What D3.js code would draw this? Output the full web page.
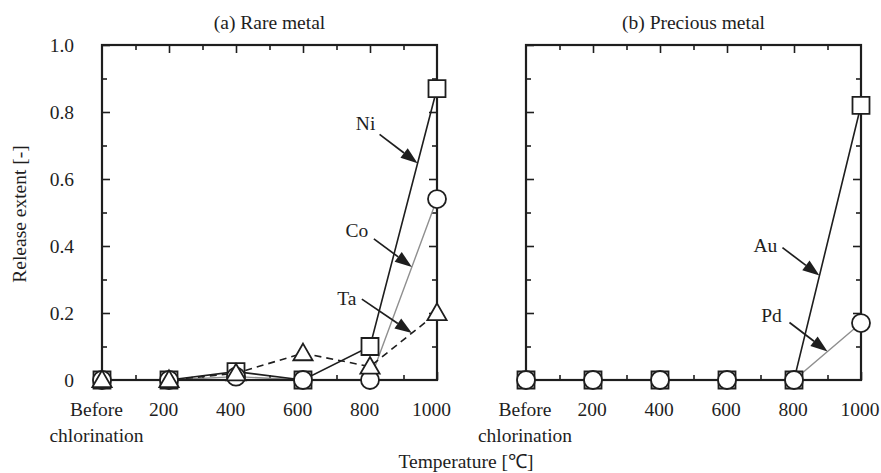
<!DOCTYPE html>
<html>
<head>
<meta charset="utf-8">
<script src="https://cdn.jsdelivr.net/npm/d3@7"></script>
<style>
  body { margin: 0; background: #fff; }
  text { font-family: "Liberation Serif", "Times New Roman", serif; }
</style>
</head>
<body>
<svg id="chart" width="881" height="473"></svg>
<script>
// Temperatures (x positions) and their tick labels
const temps = [0, 200, 400, 600, 800, 1000];
const tempLabels = ["Before|chlorination", "200", "400", "600", "800", "1000"];
const xMinorTicks = [100, 300, 500, 700, 900];

// Release-extent axis
const yTicks = [0, 0.2, 0.4, 0.6, 0.8, 1.0];
const yTickLabels = ["0", "0.2", "0.4", "0.6", "0.8", "1.0"];
const yMinorTicks = [0.1, 0.3, 0.5, 0.7, 0.9];

// (a) Rare metal
const ni = [0, 0, 0.025, 0, 0.10, 0.87];
const co = [0, 0, 0.01, 0, 0, 0.54];
const ta = [0, 0, 0.02, 0.08, 0.04, 0.20];

// (b) Precious metal
const au = [0, 0, 0, 0, 0, 0.82];
const pd = [0, 0, 0, 0, 0, 0.17];

const INK = "#1e1e1e";
const GREY = "#8f8f8f";
const FONT = 19.5;

const svg = d3.select("#chart");
const y = d3.scaleLinear().domain([0, 1]).range([380, 45]);

function valueAt(values, t) {
  const i = d3.bisectRight(temps, t) - 1;
  const j = Math.min(i + 1, temps.length - 1);
  if (i === j) return values[i];
  const f = (t - temps[i]) / (temps[j] - temps[i]);
  return values[i] + f * (values[j] - values[i]);
}

function drawPanel(cfg) {
  const x = d3.scaleLinear().domain([0, 1000]).range([cfg.left, cfg.right]);
  const g = svg.append("g").style("color", INK);

  // title
  g.append("text")
    .attr("x", (cfg.left + cfg.right) / 2).attr("y", 29)
    .attr("text-anchor", "middle").attr("font-size", FONT).attr("fill", INK)
    .text(cfg.title);

  // inward ticks on all four sides
  const tickStyle = sel => sel.call(s => s.select(".domain").remove())
    .selectAll("line").attr("stroke", INK).attr("stroke-width", 1.6);

  g.append("g").attr("transform", `translate(0,${y(1)})`)
    .call(d3.axisTop(x).tickValues(temps.slice(1, -1)).tickSize(-8).tickFormat(""))
    .call(tickStyle);
  g.append("g").attr("transform", `translate(0,${y(1)})`)
    .call(d3.axisTop(x).tickValues(xMinorTicks).tickSize(-5).tickFormat(""))
    .call(tickStyle);
  g.append("g").attr("transform", `translate(0,${y(0)})`)
    .call(d3.axisBottom(x).tickValues(xMinorTicks).tickSize(-5).tickFormat(""))
    .call(tickStyle);
  g.append("g").attr("transform", `translate(${x(1000)},0)`)
    .call(d3.axisRight(y).tickValues(yTicks.slice(1, -1)).tickSize(-8).tickFormat(""))
    .call(tickStyle);
  g.append("g").attr("transform", `translate(${x(1000)},0)`)
    .call(d3.axisRight(y).tickValues(yMinorTicks).tickSize(-5).tickFormat(""))
    .call(tickStyle);
  g.append("g").attr("transform", `translate(${x(0)},0)`)
    .call(d3.axisLeft(y).tickValues(yMinorTicks).tickSize(-5).tickFormat(""))
    .call(tickStyle);

  // left axis with labels
  const yAxis = g.append("g").attr("transform", `translate(${x(0)},0)`)
    .call(d3.axisLeft(y).tickValues(yTicks).tickSize(-8).tickPadding(28)
      .tickFormat((d, i) => cfg.yLabels ? yTickLabels[i] : ""));
  yAxis.call(tickStyle);
  yAxis.selectAll("text").attr("font-size", FONT).attr("font-family", null).attr("fill", INK);

  // bottom axis with temperature labels
  const xAxis = g.append("g").attr("transform", `translate(0,${y(0)})`)
    .call(d3.axisBottom(x).tickValues(temps).tickSize(-8).tickPadding(22)
      .tickFormat((d, i) => tempLabels[i]));
  xAxis.call(tickStyle);
  xAxis.selectAll("text").attr("font-size", FONT).attr("font-family", null).attr("fill", INK)
    .each(function (d, i) {
      const parts = tempLabels[i].split("|");
      const t = d3.select(this).text(null);
      parts.forEach((p, k) => {
        t.append("tspan").attr("x", 0).attr("dx", cfg.labelShift)
          .attr("dy", k === 0 ? "0.71em" : "1.33em").text(p);
      });
      t.attr("dy", null);
    });

  // lines: grey series underneath the black ones
  const line = d3.line().x((d, i) => x(temps[i])).y(d => y(d));
  const ordered = cfg.series.slice().sort((a, b) => (b.color === GREY) - (a.color === GREY));
  ordered.forEach(s => {
    g.append("path").datum(s.values)
      .attr("d", line).attr("fill", "none")
      .attr("stroke", s.color).attr("stroke-width", s.width)
      .attr("stroke-dasharray", s.dash || null);
  });

  // frame
  g.append("rect")
    .attr("x", x(0)).attr("y", y(1))
    .attr("width", x(1000) - x(0)).attr("height", y(0) - y(1))
    .attr("fill", "none").attr("stroke", INK).attr("stroke-width", 2.2);

  // markers
  const shapes = { square: d3.symbolSquare, circle: d3.symbolCircle, triangle: d3.symbolTriangle };
  const sizes = { square: 17 * 17, circle: Math.PI * 9 * 9, triangle: 160 };
  cfg.series.forEach(s => {
    const sym = d3.symbol().type(shapes[s.marker]).size(sizes[s.marker]);
    g.append("g").selectAll("path").data(s.values).join("path")
      .attr("transform", (d, i) => `translate(${x(temps[i])},${y(d) + (s.marker === "triangle" ? 1.5 : 0)})`)
      .attr("d", sym)
      .attr("fill", "#fff").attr("stroke", INK).attr("stroke-width", 1.8);
  });

  // annotation arrows
  cfg.notes.forEach(n => {
    const s = cfg.series.find(s => s.name === n.name);
    const tx = x(n.t), ty = y(valueAt(s.values, n.t));
    const fx = tx + n.tail[0], fy = ty + n.tail[1];
    const ang = Math.atan2(ty - fy, tx - fx);
    const L = 17, W = 6;
    const bx = tx - L * Math.cos(ang), by = ty - L * Math.sin(ang);
    g.append("line").attr("x1", fx).attr("y1", fy).attr("x2", bx).attr("y2", by)
      .attr("stroke", INK).attr("stroke-width", 1.7);
    const px = -Math.sin(ang), py = Math.cos(ang);
    g.append("path")
      .attr("d", `M${tx},${ty}L${bx + W * px},${by + W * py}L${bx - W * px},${by - W * py}Z`)
      .attr("fill", INK);
    g.append("text")
      .attr("x", fx + n.label[0]).attr("y", fy + n.label[1] + 6.5)
      .attr("text-anchor", "middle").attr("font-size", FONT).attr("fill", INK)
      .text(n.name);
  });
}

drawPanel({
  left: 102, right: 437, title: "(a) Rare metal", yLabels: true, labelShift: -6,
  series: [
    { name: "Ni", values: ni, color: INK, width: 1.6, marker: "square" },
    { name: "Co", values: co, color: GREY, width: 1.4, marker: "circle" },
    { name: "Ta", values: ta, color: INK, width: 1.6, dash: "7,5", marker: "triangle" }
  ],
  notes: [
    { name: "Ni", t: 942, tail: [-38, -29], label: [-14, -11] },
    { name: "Co", t: 925, tail: [-38, -28], label: [-17, -8] },
    { name: "Ta", t: 925, tail: [-50, -34], label: [-15, -1] }
  ]
});

drawPanel({
  left: 526, right: 861, title: "(b) Precious metal", yLabels: false, labelShift: -1.5,
  series: [
    { name: "Au", values: au, color: INK, width: 1.6, marker: "square" },
    { name: "Pd", values: pd, color: GREY, width: 1.4, marker: "circle" }
  ],
  notes: [
    { name: "Au", t: 876, tail: [-37, -28], label: [-17, -2] },
    { name: "Pd", t: 900, tail: [-38, -29], label: [-18, -7] }
  ]
});

// shared axis titles
svg.append("text")
  .attr("transform", "translate(25.5,214) rotate(-90)")
  .attr("text-anchor", "middle").attr("font-size", FONT).attr("fill", INK)
  .text("Release extent [-]");
svg.append("text")
  .attr("x", 466).attr("y", 468)
  .attr("text-anchor", "middle").attr("font-size", FONT).attr("fill", INK)
  .text("Temperature [℃]");
</script>
</body>
</html>
